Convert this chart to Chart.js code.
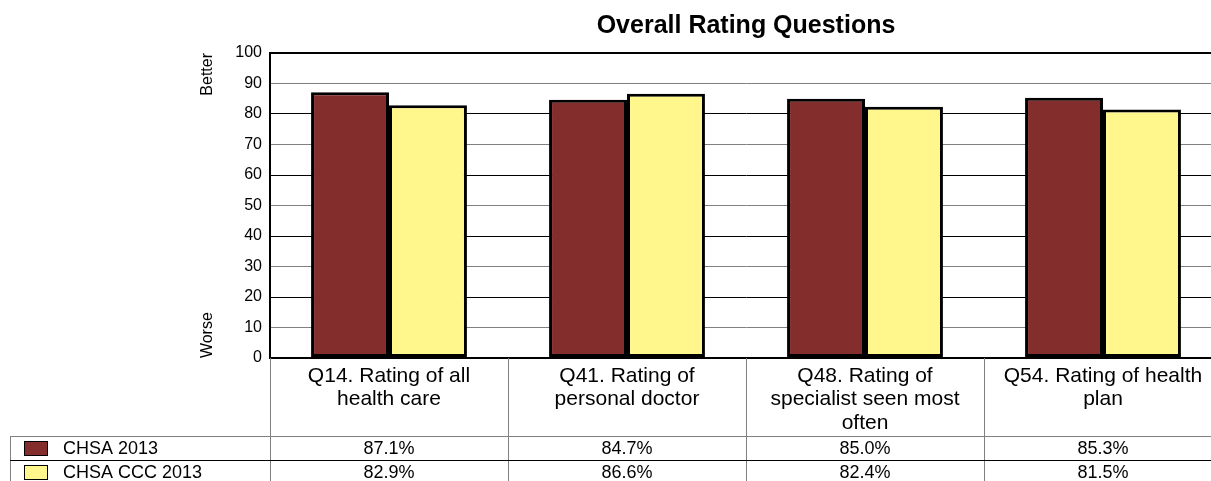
<!DOCTYPE html>
<html><head><meta charset="utf-8">
<script src="https://cdn.jsdelivr.net/npm/chart.js@4/dist/chart.umd.min.js"></script>
<style>html,body{margin:0;padding:0;overflow:hidden;background:#fff}#wrap{width:1232px;height:481px}</style>
</head><body><div id="wrap"><canvas id="c" width="1232" height="481"></canvas></div>
<script>
const categories = [
  ["Q14. Rating of all", "health care"],
  ["Q41. Rating of", "personal doctor"],
  ["Q48. Rating of", "specialist seen most", "often"],
  ["Q54. Rating of health", "plan"]
];
const seriesNames = ["CHSA 2013", "CHSA CCC 2013"];
const chsa2013 = [87.1, 84.7, 85.0, 85.3];
const chsaCcc2013 = [82.9, 86.6, 82.4, 81.5];
const tableLabels1 = ["87.1%", "84.7%", "85.0%", "85.3%"];
const tableLabels2 = ["82.9%", "86.6%", "82.4%", "81.5%"];
const colors = ["#832D2D", "#FFF68C"];
const FONT = "'Liberation Sans', Arial, sans-serif";

const extras = {
  id: 'extras',
  afterDraw(chart) {
    const ctx = chart.ctx, x = chart.scales.x, y = chart.scales.y;
    const a = chart.chartArea;
    const n = categories.length;
    const w = (x.right - x.left) / n;
    ctx.save();
    // rotated axis notes
    ctx.fillStyle = '#000';
    ctx.font = '16px ' + FONT;
    ctx.textAlign = 'center'; ctx.textBaseline = 'middle';
    [['Better', y.getPixelForValue(93)], ['Worse', y.getPixelForValue(7.5)]].forEach(([t, py]) => {
      ctx.save(); ctx.translate(208, py); ctx.rotate(-Math.PI / 2); ctx.fillText(t, 0, 0); ctx.restore();
    });
    // table
    const r0 = 436, r1 = 460, r2 = 481;
    ctx.strokeStyle = '#808080'; ctx.lineWidth = 1;
    ctx.beginPath();
    for (let i = 0; i <= n; i++) {
      const px = Math.round(x.left + i * w) + 0.5;
      ctx.moveTo(px, a.bottom); ctx.lineTo(px, r2);
    }
    ctx.moveTo(10.5, r0); ctx.lineTo(10.5, r2);
    ctx.moveTo(10, r0 + 0.5); ctx.lineTo(x.right, r0 + 0.5);
    ctx.stroke();
    ctx.strokeStyle = '#000';
    ctx.beginPath();
    ctx.moveTo(10, r1 + 0.5); ctx.lineTo(x.right, r1 + 0.5);
    ctx.stroke();
    // legend swatches
    [[r0, 0], [r1, 1]].forEach(([ry, k]) => {
      ctx.fillStyle = colors[k];
      ctx.fillRect(24, ry + 5, 24, 15);
      ctx.strokeStyle = '#000'; ctx.lineWidth = 1;
      ctx.strokeRect(24.5, ry + 5.5, 23, 14);
      ctx.fillStyle = '#000';
      ctx.font = '18px ' + FONT;
      ctx.textAlign = 'left'; ctx.textBaseline = 'middle';
      ctx.fillText(seriesNames[k], 63, ry + 13);
    });
    ctx.textAlign = 'center';
    for (let i = 0; i < n; i++) {
      const cx = x.getPixelForValue(i);
      ctx.fillText(tableLabels1[i], cx, r0 + 13);
      ctx.fillText(tableLabels2[i], cx, r1 + 13);
    }
    ctx.restore();
  }
};

new Chart(document.getElementById('c'), {
  type: 'bar',
  data: {
    labels: categories,
    datasets: [
      { label: seriesNames[0], data: chsa2013, backgroundColor: colors[0], borderColor: '#000', borderWidth: 3, borderSkipped: false },
      { label: seriesNames[1], data: chsaCcc2013, backgroundColor: colors[1], borderColor: '#000', borderWidth: 3, borderSkipped: false }
    ]
  },
  options: {
    responsive: false,
    animation: false,
    events: [],
    datasets: { bar: { categoryPercentage: 0.655, barPercentage: 1.0 } },
    layout: { padding: { left: 0, right: 10, top: 0, bottom: 0 } },
    plugins: {
      legend: { display: false },
      tooltip: { enabled: false },
      title: {
        display: true, fullSize: false,
        text: 'Overall Rating Questions',
        color: '#000',
        font: { family: FONT, size: 25, weight: 'bold', lineHeight: 1.2 },
        padding: { top: 11, bottom: 12 }
      }
    },
    scales: {
      x: {
        grid: { display: false, drawTicks: false },
        border: { display: false },
        ticks: {
          color: '#000', autoSkip: false, maxRotation: 0, minRotation: 0, padding: 7,
          font: { family: FONT, size: 21, lineHeight: 1.1 }
        },
        afterFit(s) { s.height = 123; }
      },
      y: {
        min: 0, max: 100,
        grid: {
          drawTicks: false,
          color: (c) => (c.tick && c.tick.value % 20 === 0) ? '#000' : '#808080',
          lineWidth: (c) => (c.tick && (c.tick.value === 0 || c.tick.value === 100)) ? 2 : 1
        },
        border: { display: true, color: '#000', width: 2 },
        ticks: { stepSize: 10, color: '#000', padding: 8, font: { family: FONT, size: 16 } },
        afterFit(s) { s.width = 270; }
      }
    }
  },
  plugins: [extras]
});
</script>
</body></html>
